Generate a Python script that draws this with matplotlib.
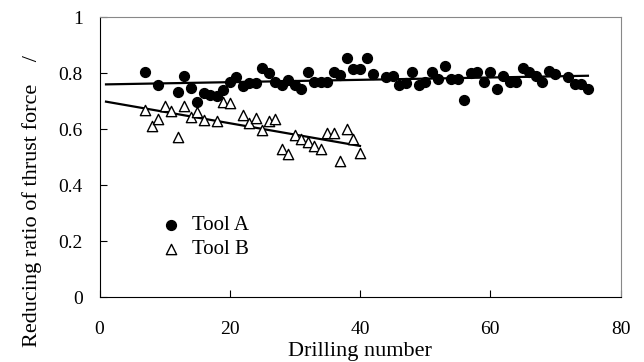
import numpy as np
from matplotlib import pyplot as plt

# Tool A: drilling number / reducing ratio
tool_a_x = [7, 9, 12, 13, 14, 15, 16, 17, 18, 19, 20, 21, 22, 23, 24, 25, 26, 27, 28, 29,
            30, 31, 32, 33, 34, 35, 36, 37, 38, 39, 40, 41, 42, 44, 45, 46, 47, 48, 49, 50,
            51, 52, 53, 54, 55, 56, 57, 58, 59, 60, 61, 62, 63, 64, 65, 66, 67, 68, 69, 70,
            72, 73, 74, 75]
tool_a_y = [0.805, 0.756, 0.732, 0.79, 0.748, 0.698, 0.728, 0.72, 0.718, 0.74, 0.768, 0.786,
            0.754, 0.763, 0.766, 0.817, 0.80, 0.768, 0.756, 0.775, 0.756, 0.744, 0.805, 0.768,
            0.768, 0.768, 0.805, 0.793, 0.852, 0.813, 0.813, 0.852, 0.798, 0.784, 0.79, 0.756,
            0.763, 0.805, 0.756, 0.768, 0.805, 0.778, 0.825, 0.778, 0.778, 0.703, 0.80, 0.805,
            0.768, 0.805, 0.744, 0.79, 0.768, 0.768, 0.817, 0.805, 0.79, 0.768, 0.807, 0.796,
            0.784, 0.76, 0.76, 0.744]

# Tool B
tool_b_x = [7, 8, 9, 10, 11, 12, 13, 14, 15, 16, 18, 19, 20, 22, 23, 24, 25, 26, 27, 28,
            29, 30, 31, 32, 33, 34, 35, 36, 37, 38, 39, 40]
tool_b_y = [0.667, 0.61, 0.637, 0.682, 0.664, 0.572, 0.682, 0.643, 0.661, 0.632, 0.628, 0.696,
            0.694, 0.649, 0.62, 0.638, 0.596, 0.628, 0.634, 0.527, 0.509, 0.577, 0.565, 0.553,
            0.541, 0.529, 0.584, 0.584, 0.485, 0.601, 0.565, 0.515]

x_ticks = [0, 20, 40, 60, 80]
y_ticks = [0, 0.2, 0.4, 0.6, 0.8, 1]

plt.rcParams['font.family'] = ['Liberation Serif', 'DejaVu Serif']

fig = plt.figure(figsize=(6.44, 3.62), dpi=100)
ax = fig.add_axes([99.5 / 644, 1 - 297 / 362, 521 / 644, 280 / 362])

ax.scatter(tool_a_x, tool_a_y, s=50, marker='o', color='black', label='Tool A', zorder=3)
ax.scatter(tool_b_x, tool_b_y, s=55, marker='^', facecolor='white', edgecolor='black',
           linewidth=1, label='Tool B', zorder=3)

# linear trend lines
ka = np.polyfit(tool_a_x, tool_a_y, 1)
kb = np.polyfit(tool_b_x, tool_b_y, 1)
xa = np.array([1, 75])
xb = np.array([1, 40])
ax.plot(xa, np.polyval(ka, xa), color='black', lw=1.6, zorder=2)
ax.plot(xb, np.polyval(kb, xb), color='black', lw=1.6, zorder=2)

ax.set_xlim(0, 80)
ax.set_ylim(0, 1)
ax.set_xticks(x_ticks)
ax.set_yticks(y_ticks)
ax.set_yticklabels(['0', '0.2', '0.4', '0.6', '0.8', '1'])
ax.tick_params(direction='in', length=5, labelsize=14)
ax.tick_params(axis='x', pad=17)
ax.tick_params(axis='y', pad=12)

for side in ['top', 'right']:
    ax.spines[side].set_color('#888888')
for side in ['left', 'bottom']:
    ax.spines[side].set_color('black')

ax.set_xlabel('Drilling number', fontsize=16, labelpad=3)
fig.text(32 / 644, 1 - 201 / 362, 'Reducing ratio of thrust force    /', fontsize=16,
         rotation=90, ha='center', va='center')

ax.legend(loc='upper left', bbox_to_anchor=(0.117, 0.29), frameon=False, fontsize=15,
          handlelength=1.0, handletextpad=0.5, labelspacing=0.2, borderpad=0,
          borderaxespad=0, scatterpoints=1)

fig.savefig('out.png', dpi=100)
